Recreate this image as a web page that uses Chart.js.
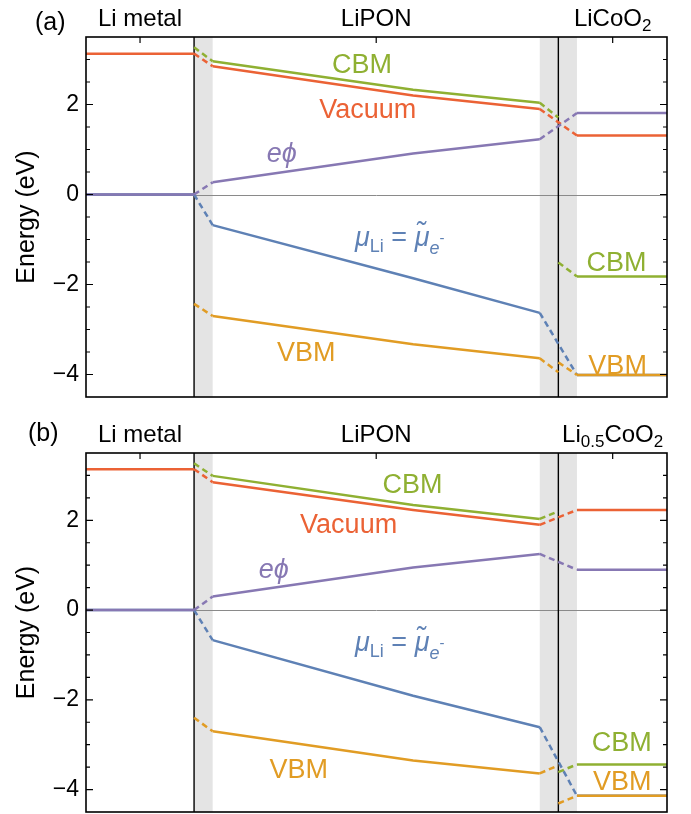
<!DOCTYPE html>
<html>
<head>
<meta charset="utf-8">
<script src="https://cdn.jsdelivr.net/npm/chart.js@4.4.1/dist/chart.umd.min.js"></script>
<style>
body{margin:0;background:#fff;width:691px;height:814px;position:relative;overflow:hidden}
canvas{position:absolute;left:0}
#chartA{top:0}
#chartB{top:410px}
</style>
</head>
<body>
<canvas id="chartA" width="691" height="405"></canvas>
<canvas id="chartB" width="691" height="404"></canvas>
<script>
const FONT = "'Liberation Sans', Arial, Helvetica, sans-serif";

// position along the cell stack (0 = left edge, 100 = right edge)
const xFull = [0, 18.6, 21.8, 56.3, 78.1, 84.5, 100];
const xLipon = [18.6, 21.8, 56.3, 78.1, 81.3];
const xCathode = [81.3, 84.5, 100];
const interfaces = [18.6, 81.3];
const bands = [[18.6, 21.8], [78.1, 84.5]];
const regionCenters = [9.3, 49.95, 90.65];
const yLabels = [-4, -2, 0, 2];

// (a) Li metal | LiPON | LiCoO2
const vacuumA = [3.13, 3.13, 2.85, 2.20, 1.90, 1.31, 1.31];
const ephiA = [0, 0, 0.27, 0.91, 1.23, 1.81, 1.81];
const muA = [0, 0, -0.68, -1.86, -2.63, -4.01, -4.01];
const cbmLiponA = [3.27, 2.96, 2.33, 2.04, 1.71];
const cbmCathodeA = [-1.51, -1.82, -1.82];
const vbmLiponA = [-2.43, -2.70, -3.33, -3.64, -3.95];
const vbmCathodeA = [-3.73, -4.01, -4.01];

// (b) Li metal | LiPON | Li0.5CoO2
const vacuumB = [3.14, 3.14, 2.85, 2.23, 1.90, 2.23, 2.23];
const ephiB = [0, 0, 0.30, 0.95, 1.25, 0.90, 0.90];
const muB = [0, 0, -0.67, -1.91, -2.61, -4.14, -4.14];
const cbmLiponB = [3.27, 2.99, 2.34, 2.03, 2.20];
const cbmCathodeB = [-3.61, -3.44, -3.44];
const vbmLiponB = [-2.40, -2.70, -3.35, -3.64, -3.46];
const vbmCathodeB = [-4.31, -4.14, -4.14];

const BLUE = '#5E81B5', GOLD = '#E19C24', GREEN = '#8FB032', RED = '#EB6235', PURPLE = '#8778B3';

const muText = [{t:'\u03bc',it:1},{t:'Li',sc:0.68,dy:0.22},{t:' = '},{t:'\u03bc\u0303',it:1},{t:'e',it:1,sc:0.68,dy:0.28},{t:'-',sc:0.55,dy:-0.12}];
const ephiText = [{t:'e\u03d5',it:1}];

function inBand(x0, x1) {
  const m = (x0 + x1) / 2;
  return bands.some(b => m > b[0] && m < b[1]);
}

function line(xs, ys, color) {
  return {
    data: xs.map((x, i) => ({x: x, y: ys[i]})),
    borderColor: color, borderWidth: 2.5, pointRadius: 0, tension: 0, fill: false,
    borderCapStyle: 'butt',
    segment: { borderDash: c => inBand(c.p0.parsed.x, c.p1.parsed.x) ? [6, 4] : undefined }
  };
}

function fmt(v) { return v < 0 ? '\u2212' + Math.abs(v) : String(v); }

function drawRich(ctx, segs, cx, by, size, color) {
  let w = 0;
  segs.forEach(s => {
    ctx.font = (s.it ? 'italic ' : '') + Math.round(size * (s.sc || 1)) + 'px ' + FONT;
    s._w = ctx.measureText(s.t).width; w += s._w;
  });
  let x = cx - w / 2;
  ctx.fillStyle = color; ctx.textAlign = 'left'; ctx.textBaseline = 'alphabetic';
  segs.forEach(s => {
    ctx.font = (s.it ? 'italic ' : '') + Math.round(size * (s.sc || 1)) + 'px ' + FONT;
    ctx.fillText(s.t, x, by + (s.dy || 0) * size);
    x += s._w;
  });
}

const panelPlugin = {
  id: 'panel',
  beforeDatasetsDraw(chart, args, o) {
    const {ctx, chartArea: a, scales: {x, y}} = chart;
    ctx.save();
    ctx.fillStyle = '#e4e4e4';
    bands.forEach(b => {
      const x0 = x.getPixelForValue(b[0]), x1 = x.getPixelForValue(b[1]);
      ctx.fillRect(x0, a.top, x1 - x0, a.bottom - a.top);
    });
    ctx.strokeStyle = '#8a8a8a'; ctx.lineWidth = 1;
    const y0 = Math.round(y.getPixelForValue(0)) + 0.5;
    ctx.beginPath(); ctx.moveTo(a.left, y0); ctx.lineTo(a.right, y0); ctx.stroke();
    ctx.strokeStyle = '#000'; ctx.lineWidth = 1.4;
    interfaces.forEach(v => {
      const px = x.getPixelForValue(v);
      ctx.beginPath(); ctx.moveTo(px, a.top); ctx.lineTo(px, a.bottom); ctx.stroke();
    });
    ctx.restore();
  },
  afterDatasetsDraw(chart, args, o) {
    const {ctx, scales: {x, y}} = chart;
    ctx.save();
    o.labels.forEach(l => {
      drawRich(ctx, l.text, x.getPixelForValue(l.x), y.getPixelForValue(l.y), 27, l.color);
    });
    ctx.restore();
  },
  afterDraw(chart, args, o) {
    const {ctx, chartArea: a, scales: {x, y}} = chart;
    ctx.save();
    ctx.strokeStyle = '#000'; ctx.lineWidth = 1.6;
    ctx.strokeRect(a.left, a.top, a.right - a.left, a.bottom - a.top);
    ctx.lineWidth = 1.2;
    y.ticks.forEach(t => {
      const py = y.getPixelForValue(t.value);
      if (py < a.top + 1 || py > a.bottom - 1) return;
      const len = yLabels.includes(t.value) ? 7 : 4;
      ctx.beginPath();
      ctx.moveTo(a.left, py); ctx.lineTo(a.left + len, py);
      ctx.moveTo(a.right, py); ctx.lineTo(a.right - len, py);
      ctx.stroke();
    });
    regionCenters.forEach(v => {
      const px = x.getPixelForValue(v);
      ctx.beginPath(); ctx.moveTo(px, a.top); ctx.lineTo(px, a.top + 6); ctx.stroke();
    });
    o.regions.forEach((segs, i) => {
      drawRich(ctx, segs, x.getPixelForValue(regionCenters[i]), a.top - 11.5, 24, '#000');
    });
    ctx.fillStyle = '#000'; ctx.font = '25px ' + FONT;
    ctx.textAlign = 'left'; ctx.textBaseline = 'alphabetic';
    ctx.fillText(o.tag, o.tagX, o.tagY);
    ctx.restore();
  }
};

function makeChart(id, s, padTop, padBottom, panel) {
  return new Chart(document.getElementById(id), {
    type: 'line',
    data: {
      datasets: [
        line(xFull, s.ephi, PURPLE),
        line(xFull, s.vacuum, RED),
        line(xLipon, s.cbmLipon, GREEN),
        line(xCathode, s.cbmCathode, GREEN),
        line(xLipon, s.vbmLipon, GOLD),
        line(xCathode, s.vbmCathode, GOLD),
        line(xFull, s.mu, BLUE)
      ]
    },
    options: {
      responsive: false,
      animation: false,
      devicePixelRatio: 1,
      events: [],
      layout: { padding: { left: 10, right: 24, top: padTop, bottom: padBottom } },
      plugins: { legend: { display: false }, tooltip: { enabled: false }, panel: panel },
      scales: {
        x: { type: 'linear', min: 0, max: 100, display: false },
        y: {
          min: -4.5, max: 3.5,
          afterFit: sc => { sc.width = 76; sc.paddingTop = 0; sc.paddingBottom = 0; },
          grid: { display: false, drawTicks: false },
          border: { display: false },
          ticks: {
            stepSize: 0.5, autoSkip: false, padding: 7, color: '#000',
            font: { family: FONT, size: 23 },
            callback: v => yLabels.includes(v) ? fmt(v) : ''
          },
          title: { display: true, text: 'Energy (eV)', color: '#000', font: { family: FONT, size: 25 }, padding: { top: 2, bottom: 0 } }
        }
      }
    },
    plugins: [panelPlugin]
  });
}

makeChart('chartA', {
  vacuum: vacuumA, ephi: ephiA, mu: muA,
  cbmLipon: cbmLiponA, cbmCathode: cbmCathodeA, vbmLipon: vbmLiponA, vbmCathode: vbmCathodeA
}, 37, 8, {
  tag: '(a)', tagX: 35, tagY: 30,
  regions: [[{t:'Li metal'}], [{t:'LiPON'}], [{t:'LiCoO'}, {t:'2', sc:0.7, dy:0.22}]],
  labels: [
    {text: [{t:'CBM'}], x: 47.5, y: 2.71, color: GREEN},
    {text: [{t:'Vacuum'}], x: 48.5, y: 1.69, color: RED},
    {text: ephiText, x: 33.7, y: 0.72, color: PURPLE},
    {text: muText, x: 54.0, y: -1.15, color: BLUE},
    {text: [{t:'VBM'}], x: 37.9, y: -3.71, color: GOLD},
    {text: [{t:'CBM'}], x: 91.3, y: -1.70, color: GREEN},
    {text: [{t:'VBM'}], x: 91.5, y: -3.98, color: GOLD}
  ]
});

makeChart('chartB', {
  vacuum: vacuumB, ephi: ephiB, mu: muB,
  cbmLipon: cbmLiponB, cbmCathode: cbmCathodeB, vbmLipon: vbmLiponB, vbmCathode: vbmCathodeB
}, 43, 2, {
  tag: '(b)', tagX: 28, tagY: 31,
  regions: [[{t:'Li metal'}], [{t:'LiPON'}], [{t:'Li'}, {t:'0.5', sc:0.7, dy:0.22}, {t:'CoO'}, {t:'2', sc:0.7, dy:0.22}]],
  labels: [
    {text: [{t:'CBM'}], x: 56.2, y: 2.61, color: GREEN},
    {text: [{t:'Vacuum'}], x: 45.2, y: 1.72, color: RED},
    {text: ephiText, x: 32.3, y: 0.72, color: PURPLE},
    {text: muText, x: 54.0, y: -0.92, color: BLUE},
    {text: [{t:'VBM'}], x: 36.6, y: -3.75, color: GOLD},
    {text: [{t:'CBM'}], x: 92.2, y: -3.13, color: GREEN},
    {text: [{t:'VBM'}], x: 92.3, y: -4.02, color: GOLD}
  ]
});
</script>
</body>
</html>
